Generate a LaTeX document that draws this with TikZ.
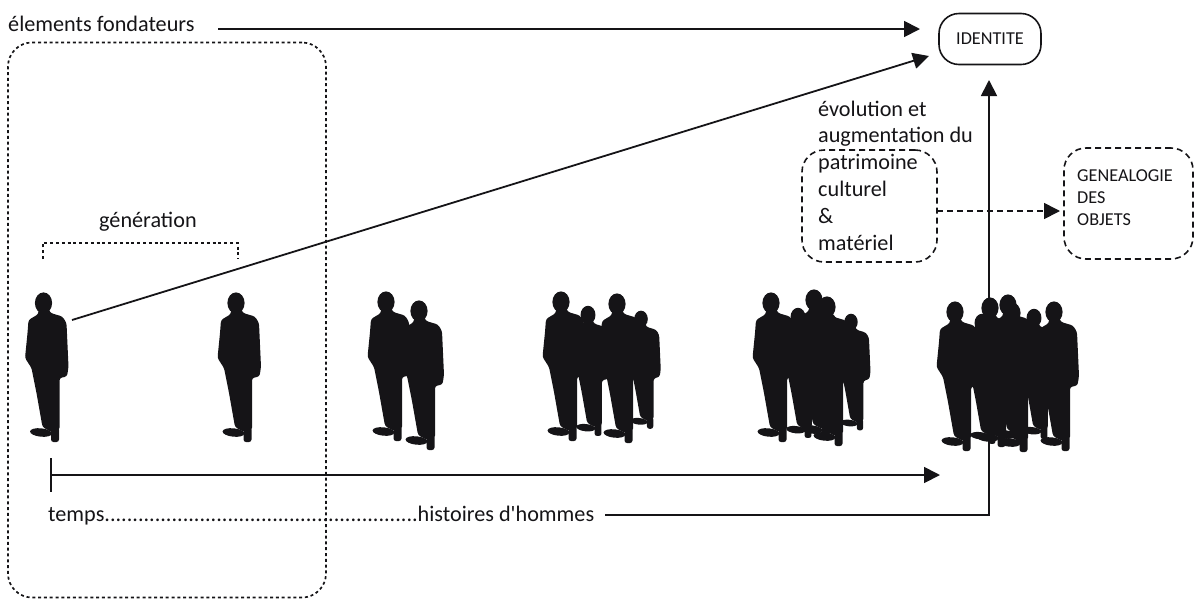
\documentclass[tikz,border=0pt]{standalone}
\usepackage{fontspec}
\setmainfont{Carlito}[Ligatures=TeXOff]
\usetikzlibrary{arrows.meta,calc}
\definecolor{ink}{HTML}{151417}
\tikzset{
  lab/.style={inner sep=0pt,anchor=base west,text=ink,font=\fontsize{22.2}{22.2}\selectfont},
  small/.style={inner sep=0pt,anchor=base west,text=ink,font=\fontsize{18.2}{18.2}\selectfont},
  conn/.style={draw=ink,line width=1.8pt},
  tip/.style={-{Triangle[length=16pt,width=16pt,fill=ink]}},
  dashbox/.style={draw=ink,line width=1.6pt,dash pattern=on 6pt off 4pt,rounded corners=22pt},
  dotbox/.style={draw=ink,line width=1.7pt,dash pattern=on 3pt off 2.8pt},
  person/.pic={
    \fill[ink] (0,0) ellipse[x radius=8.6,y radius=10.6];
    \fill[ink,rounded corners=2.5pt] (-5,6) -- (-5,11) -- (-15,17) -- (-16,30) -- (-18.5,55) -- (-12,65)
      -- (-7,90) -- (-1,124) -- (8,129) -- (16,127)
      -- (16,75) -- (23.5,73.5) -- (25,64) -- (23,20) -- (19,13.5) -- (7,10) -- (5,6) -- cycle;
    \fill[ink,rotate around={-6:(-2.5,129.5)}] (-2.5,129.5) ellipse[x radius=11,y radius=4.2];
    \fill[ink,rounded corners=2.5pt] (7.5,124) rectangle (15.5,139);
  }
}
\begin{document}
\begin{tikzpicture}[x=1pt,y=-1pt]
\useasboundingbox (0,0) rectangle (1194,598);
% silhouettes
\foreach \x/\y/\s in {43.5/303/1,236/303/1,
  386/302/1,419/311/1,
  561/302/1,588/315/.87,617/304/1,641/319/.79,
  771/303/1,798/317/.87,814/300/1,827/307/1,851/322/.78,
  955/312/1,982/323/.87,990/308/1,1008/305/1,1012/313/1,1034/318/.87,1054/312/1}
  \pic[scale=\s] at (\x,\y) {person};
% nodes
\node[lab] (fond) at (8,31) {élements fondateurs};
\node[lab] (gen) at (99,227) {génération};
\node[draw=ink,line width=1.6pt,rounded corners=20pt,minimum width=102pt,minimum height=51pt,inner sep=0pt,text=ink,font=\fontsize{18.2}{18.2}\selectfont] (id) at (990,39) {IDENTITE};
\node[dashbox,minimum width=135pt,minimum height=112pt] (pat) at (869.5,206) {};
\node[dashbox,minimum width=129pt,minimum height=111pt] (geneal) at (1128.5,203.5) {};
\node[lab] (t1) at (818,116) {évolution et};
\node[lab] (t2) at (818,142) {augmentation du};
\node[lab] (t3) at (818,169) {patrimoine};
\node[lab] (t4) at (818,196) {culturel};
\node[lab] (t5) at (818,223) {\&};
\node[lab] (t6) at (818,250) {matériel};
\node[small] (g1) at (1077,181) {GENEALOGIE};
\node[small] (g2) at (1077,203) {DES};
\node[small] (g3) at (1077,225) {OBJETS};
\node[lab] (hist) at (48,521) {temps........................................................histoires d'hommes};
% dotted frames
\node[dotbox,rounded corners=24pt,minimum width=318pt,minimum height=555pt,inner sep=0pt] (frame) at (167,320) {};
\coordinate (b1) at (43,259); \coordinate (b2) at (238,259);
\draw[dotbox,line width=1.4pt] (b1) -- (b1|-0,243) -- (b2|-0,243) -- (b2);
% connectors
\coordinate (f1) at (218,29); \coordinate (f2) at (920,29);
\draw[conn,tip] (f1) -- (f2);
\coordinate (m1) at (72,320); \coordinate (m2) at (929,56);
\draw[conn,tip] (m1) -- (m2);
\coordinate (h1) at (605,515); \coordinate (h2) at (989,515); \coordinate (h3) at (989,80);
\draw[conn,tip] (h1) -- (h2) -- (h3);
\coordinate (a1) at (51,475); \coordinate (a2) at (940,475);
\draw[conn,tip] (a1) -- (a2);
\coordinate (a3) at (51,458); \coordinate (a4) at (51,492);
\draw[conn] (a3) -- (a4);
\coordinate (d1) at (937,211); \coordinate (d2) at (1060,211);
\draw[draw=ink,line width=1.6pt,dash pattern=on 6pt off 4pt] (d1) -- (1046,211);
\path[tip,draw=ink,line width=1.6pt] (1046,211) -- (d2);
\end{tikzpicture}
\end{document}
